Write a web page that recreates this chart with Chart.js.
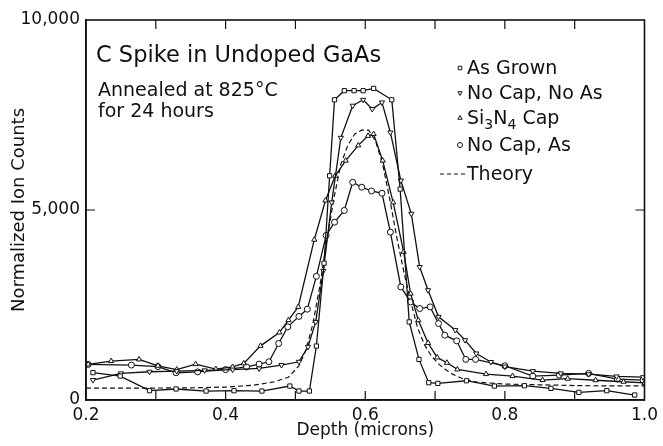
<!DOCTYPE html>
<html><head><meta charset="utf-8">
<script src="https://cdn.jsdelivr.net/npm/chart.js@4.4.0/dist/chart.umd.min.js"></script>
<style>html,body{margin:0;padding:0;background:#fff}</style>
</head><body>
<canvas id="c" width="663" height="446"></canvas>
<script>
// ---- data ----
const seriesNames = ["As Grown", "No Cap, No As", "Si3N4 Cap", "No Cap, As", "Theory"];

const asGrownDepth  = [0.210,0.249,0.291,0.329,0.372,0.412,0.452,0.492,0.505,0.520,0.530,0.541,0.549,0.556,0.570,0.584,0.597,0.612,0.638,0.650,0.663,0.677,0.691,0.704,0.745,0.785,0.828,0.866,0.906,0.946,0.986];
const asGrownCounts = [720,630,245,290,236,245,236,367,236,236,1420,3600,5900,7900,8140,8140,8140,8200,7900,5550,2055,1068,455,437,507,367,376,306,201,245,131];

const noCapNoAsDepth  = [0.210,0.250,0.291,0.330,0.370,0.410,0.448,0.480,0.505,0.518,0.529,0.540,0.552,0.565,0.582,0.597,0.610,0.624,0.636,0.651,0.666,0.678,0.690,0.705,0.729,0.743,0.759,0.780,0.800,0.840,0.880,0.920,0.960,0.998];
const noCapNoAsCounts = [525,700,743,760,780,800,830,919,1006,1400,2055,3400,5200,6900,7744,7900,7656,7831,7040,5775,4900,3500,2890,2190,1840,1575,1225,1000,880,760,700,680,620,600];

const si3n4Depth  = [0.203,0.236,0.276,0.303,0.330,0.357,0.386,0.410,0.426,0.450,0.477,0.490,0.504,0.527,0.543,0.557,0.572,0.590,0.604,0.612,0.625,0.640,0.655,0.665,0.676,0.690,0.703,0.717,0.732,0.773,0.811,0.854,0.890,0.930,0.970,1.000];
const si3n4Counts = [937,1024,1068,901,800,945,814,870,963,1425,1777,2100,2450,4218,5250,5900,6300,6700,6950,7000,6300,5200,3900,2800,2100,1500,1120,980,805,682,630,525,560,520,480,450];

const noCapAsDepth  = [0.203,0.265,0.303,0.329,0.360,0.400,0.430,0.448,0.462,0.476,0.489,0.505,0.517,0.530,0.544,0.556,0.570,0.582,0.595,0.609,0.624,0.636,0.651,0.665,0.678,0.693,0.705,0.714,0.731,0.744,0.758,0.800,0.840,0.878,0.920,0.961,0.998];
const noCapAsCounts = [937,919,880,717,740,800,870,945,1006,1487,1925,2200,2389,3255,4331,4680,4988,5730,5600,5500,5441,4418,2975,2580,2407,2450,2013,1706,1557,1068,1068,901,630,656,700,551,525];

const theoryDepth  = [0.200,0.250,0.300,0.350,0.400,0.440,0.470,0.490,0.505,0.515,0.525,0.535,0.545,0.555,0.565,0.575,0.585,0.595,0.605,0.615,0.625,0.635,0.645,0.655,0.665,0.675,0.685,0.695,0.705,0.715,0.725,0.740,0.760,0.800,0.850,0.900,0.950,1.000];
const theoryCounts = [310,310,315,320,340,390,480,600,900,1310,2000,3000,4200,5300,6200,6700,7000,7100,7100,6800,6200,5300,4300,3400,2600,1900,1450,1150,950,800,680,560,470,420,400,380,370,370];

const xTickLabels = [0.2, 0.4, 0.6, 0.8, 1.0];
const xInnerTicks = [0.3, 0.4, 0.5, 0.6, 0.7, 0.8, 0.9];
const yTickLabels = [0, 5000, 10000];
const yInnerTicks = [5000];

const titleLine = "C Spike in Undoped GaAs";
const noteLines = ["Annealed at 825\u00B0C", "for 24 hours"];

// ---- build ----
const FONT = '"DejaVu Sans", sans-serif';
const INK = '#111';
function pts(xs, ys) { return xs.map((x, i) => ({ x: x, y: ys[i] })); }
function markerSet(label, xs, ys, style, rot) {
  return {
    label: label, data: pts(xs, ys), borderColor: INK, borderWidth: 1.3,
    pointStyle: style, pointRotation: rot || 0, pointRadius: 3, pointBorderWidth: 1,
    pointBackgroundColor: '#fff', pointBorderColor: INK, tension: 0, fill: false
  };
}
const datasets = [
  markerSet(seriesNames[0], asGrownDepth, asGrownCounts, 'rect'),
  markerSet(seriesNames[1], noCapNoAsDepth, noCapNoAsCounts, 'triangle', 180),
  markerSet(seriesNames[2], si3n4Depth, si3n4Counts, 'triangle'),
  markerSet(seriesNames[3], noCapAsDepth, noCapAsCounts, 'circle'),
  { label: seriesNames[4], data: pts(theoryDepth, theoryCounts), borderColor: INK, borderWidth: 1.2,
    borderDash: [5, 3], pointRadius: 0, tension: 0, fill: false }
];

const decor = {
  id: 'decor',
  afterDraw(chart) {
    const ctx = chart.ctx, a = chart.chartArea, xs = chart.scales.x, ys = chart.scales.y;
    ctx.save();
    ctx.strokeStyle = INK; ctx.lineWidth = 1.6;
    ctx.strokeRect(a.left, a.top, a.right - a.left, a.bottom - a.top);
    ctx.lineWidth = 1.2;
    ctx.beginPath();
    xInnerTicks.forEach(v => {
      const px = xs.getPixelForValue(v);
      ctx.moveTo(px, a.bottom); ctx.lineTo(px, a.bottom - 9);
      ctx.moveTo(px, a.top); ctx.lineTo(px, a.top + 9);
    });
    yInnerTicks.forEach(v => {
      const py = ys.getPixelForValue(v);
      ctx.moveTo(a.left, py); ctx.lineTo(a.left + 9, py);
      ctx.moveTo(a.right, py); ctx.lineTo(a.right - 9, py);
    });
    ctx.stroke();

    ctx.fillStyle = INK; ctx.textBaseline = 'alphabetic'; ctx.textAlign = 'left';
    ctx.font = '22.5px ' + FONT;
    ctx.fillText(titleLine, 96, 62);
    ctx.font = '19px ' + FONT;
    ctx.fillText(noteLines[0], 98, 96);
    ctx.fillText(noteLines[1], 98, 117);

    // legend
    const lx = 467, mx = 460;
    const rows = [74, 99, 124, 151, 180];
    const sets = chart.data.datasets;
    for (let i = 0; i < 4; i++) {
      const ds = sets[i];
      ctx.fillStyle = '#fff'; ctx.strokeStyle = INK; ctx.lineWidth = 1;
      Chart.helpers.drawPoint(ctx, { pointStyle: ds.pointStyle, rotation: ds.pointRotation, radius: 2.5, borderWidth: 1 }, mx, rows[i] - 6);
    }
    ctx.fillStyle = INK;
    ctx.font = '19px ' + FONT;
    ctx.fillText(seriesNames[0], lx, rows[0]);
    ctx.fillText(seriesNames[1], lx, rows[1]);
    // Si3N4 Cap with subscripts
    let x = lx;
    const parts = [["Si", 0], ["3", 1], ["N", 0], ["4", 1], [" Cap", 0]];
    parts.forEach(p => {
      ctx.font = (p[1] ? '14px ' : '19px ') + FONT;
      ctx.fillText(p[0], x, rows[2] + (p[1] ? 5 : 0));
      x += ctx.measureText(p[0]).width;
    });
    ctx.font = '19px ' + FONT;
    ctx.fillText(seriesNames[3], lx, rows[3]);
    ctx.fillText(seriesNames[4], lx, rows[4]);
    ctx.strokeStyle = INK; ctx.setLineDash([4, 3]); ctx.lineWidth = 1.1;
    ctx.beginPath(); ctx.moveTo(440, rows[4] - 6); ctx.lineTo(465, rows[4] - 6); ctx.stroke();
    ctx.restore();
  }
};

new Chart(document.getElementById('c'), {
  type: 'line',
  data: { datasets: datasets },
  options: {
    responsive: false, animation: false, devicePixelRatio: 1,
    layout: { padding: { left: 0, right: 14, top: 20, bottom: 0 } },
    plugins: { legend: { display: false }, tooltip: { enabled: false } },
    scales: {
      x: {
        type: 'linear', min: 0.2, max: 1.0,
        afterBuildTicks: s => { s.ticks = xTickLabels.map(v => ({ value: v })); },
        afterFit: s => { s.height = 46; },
        grid: { display: false, drawTicks: false },
        border: { display: true, color: INK, width: 1.6 },
        ticks: { color: INK, padding: 5, font: { family: FONT, size: 17 }, callback: v => Number(v).toFixed(1) },
        title: { display: true, text: 'Depth (microns)', color: INK, font: { family: FONT, size: 17 }, padding: { top: 0, bottom: 5 } }
      },
      y: {
        type: 'linear', min: 0, max: 10000,
        afterBuildTicks: s => { s.ticks = yTickLabels.map(v => ({ value: v })); },
        afterFit: s => { s.width = 86; },
        grid: { display: false, drawTicks: false },
        border: { display: true, color: INK, width: 1.6 },
        ticks: { color: INK, padding: 6, font: { family: FONT, size: 17 }, callback: v => Number(v).toLocaleString('en-US') },
        title: { display: true, text: 'Normalized Ion Counts', color: INK, font: { family: FONT, size: 18 }, padding: { top: 9, bottom: 0 } }
      }
    }
  },
  plugins: [decor]
});
</script>
</body></html>
